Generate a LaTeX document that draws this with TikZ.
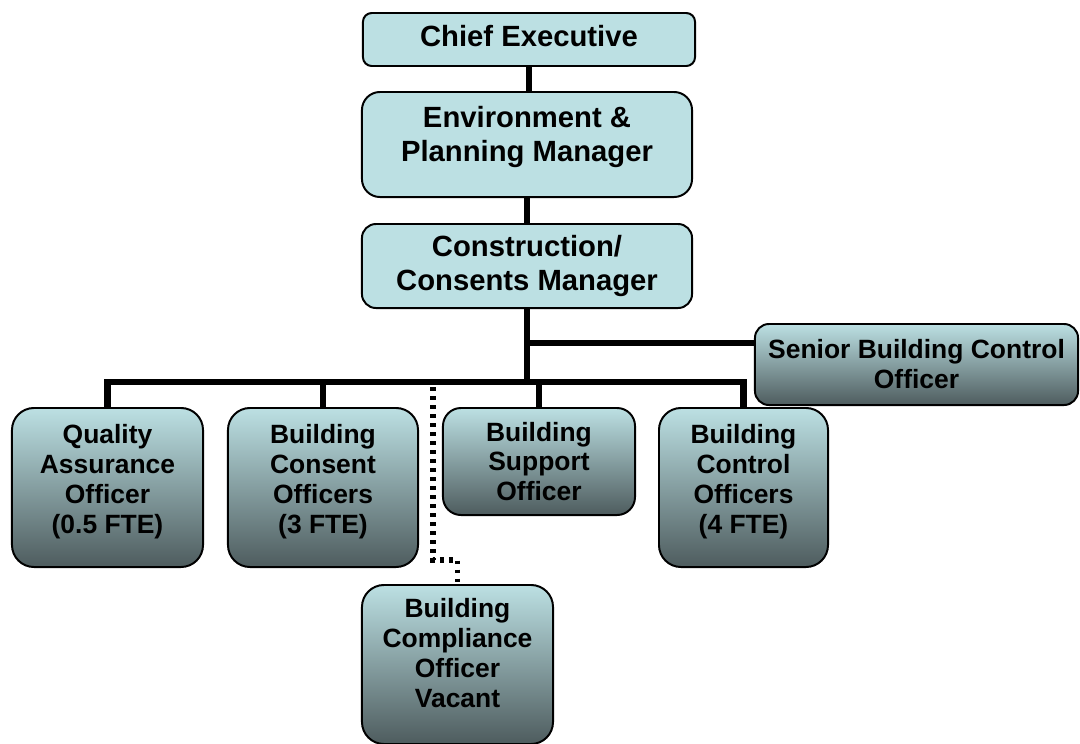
\documentclass[tikz,border=0pt]{standalone}
\usepackage{fontspec}
\setmainfont{Liberation Sans}
\definecolor{boxtop}{HTML}{BCE0E3}
\definecolor{boxbot}{HTML}{4E5C5E}
% empty last line, lifts the text inside a tall box
\newcommand{\lift}[1]{\\[#1]\mbox{}}

\begin{document}
\begin{tikzpicture}[x=0.025cm,y=-0.025cm,
    head/.style={draw,line width=1.4pt,fill=boxtop,inner sep=0pt,align=center,
      font=\fontsize{20.8}{24.2}\selectfont\bfseries},
    staff/.style={draw,line width=1.4pt,top color=boxtop,bottom color=boxbot,
      inner sep=0pt,align=center,font=\fontsize{18.8}{21.3}\selectfont\bfseries},
    link/.style={line width=4.3pt},
    vacancy/.style={line width=4.2pt,dash pattern=on 2.8pt off 3.6pt}]
  \useasboundingbox (0,0) rectangle (1080,744);

  % management line
  \node[head,minimum width=8.3cm,minimum height=1.325cm,rounded corners=0.22cm,
    text depth=0.2cm] (ceo) at (529,39.5) {Chief Executive};
  \node[head,minimum width=8.25cm,minimum height=2.625cm,rounded corners=0.45cm]
    (epm) at (527,144.5) {Environment \&\\Planning Manager\lift{-0.3cm}};
  \node[head,minimum width=8.25cm,minimum height=2.1cm,rounded corners=0.35cm]
    (ccm) at (527,266) {Construction/\\Consents Manager};

  % staff
  \node[staff,minimum width=8.075cm,minimum height=2.025cm,rounded corners=0.35cm]
    (sbco) at (916.5,364.5) {Senior Building Control\\Officer};
  \node[staff,minimum width=4.775cm,minimum height=3.975cm,rounded corners=0.55cm]
    (qao) at (107.5,487.5) {Quality\\Assurance\\Officer\\(0.5 FTE)\lift{-0.31cm}};
  \node[staff,minimum width=4.75cm,minimum height=3.975cm,rounded corners=0.55cm]
    (bco) at (323,487.5) {Building\\Consent\\Officers\\(3 FTE)\lift{-0.31cm}};
  \node[staff,minimum width=4.8cm,minimum height=2.675cm,rounded corners=0.45cm]
    (bso) at (539,461.5) {Building\\Support\\Officer};
  \node[staff,minimum width=4.225cm,minimum height=3.975cm,rounded corners=0.55cm]
    (bctl) at (743.5,487.5) {Building\\Control\\Officers\\(4 FTE)\lift{-0.31cm}};
  \node[staff,minimum width=4.775cm,minimum height=3.975cm,rounded corners=0.55cm]
    (bcomp) at (457.5,664.5) {Building\\Compliance\\Officer\\Vacant\lift{-0.15cm}};

  % reporting lines
  \coordinate (bus) at (527,382);
  \coordinate (tap) at (527,343);
  \coordinate (vac) at (433,387);
  \draw[link] (ceo.south) -- (ceo.south |- epm.north);
  \draw[link] (epm) -- (ccm);
  \draw[link] (ccm) -- (bus);
  \draw[link] (tap) -- (tap -| sbco.west);
  \foreach \n in {qao,bco,bso,bctl} {\draw[link] (\n.north) |- (bus);}
  \draw[vacancy] (vac) -- (433,560) -| (bcomp.north);
\end{tikzpicture}
\end{document}
